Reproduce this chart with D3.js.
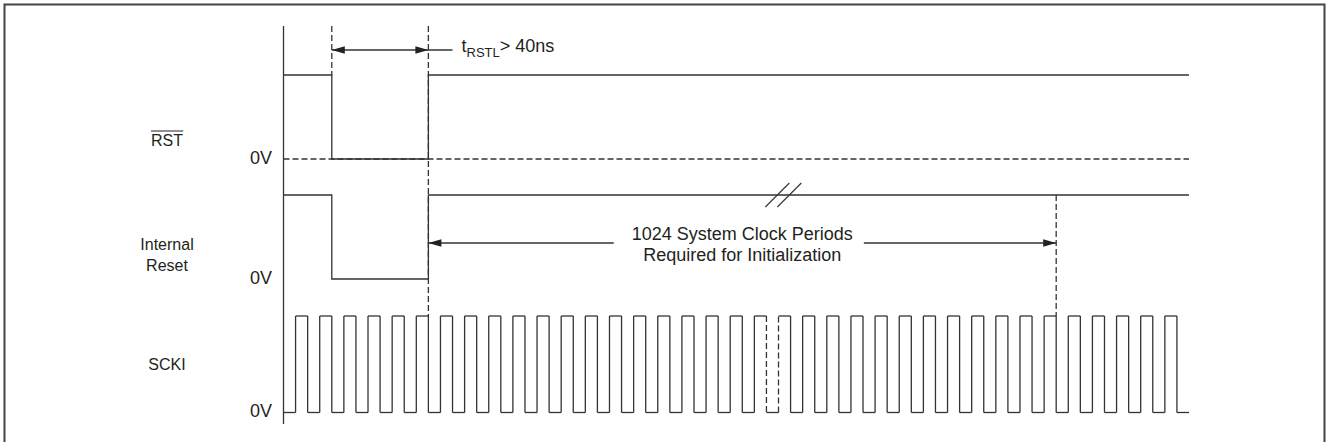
<!DOCTYPE html>
<html>
<head>
<meta charset="utf-8">
<script src="https://cdn.jsdelivr.net/npm/d3@7"></script>
<style>
  body { margin: 0; background: #fff; }
  svg { display: block; }
  text { font-family: "Liberation Sans", Arial, Helvetica, sans-serif; fill: #231f20; }
</style>
</head>
<body>
<svg id="chart" width="1326" height="442"></svg>
<script>
// Time is counted in SCKI periods, t = 0 at the left reference line
var signalNames = ["RST", "Internal Reset", "SCKI"];

// RST and internal reset: level (1 = high, 0 = 0V) starting at each time
var rstTimes = [0, 2, 6];
var rstLevels = [1, 0, 1];
var intResetTimes = [0, 2, 6];
var intResetLevels = [1, 0, 1];

// SCKI rising edges; each pulse stays high for half a period
var sckiRises = [0.5, 1.5, 2.5, 3.5, 4.5, 5.5, 6.5, 7.5, 8.5, 9.5,
                 10.5, 11.5, 12.5, 13.5, 14.5, 15.5, 16.5, 17.5, 18.5, 19.5,
                 20.5, 21.5, 22.5, 23.5, 24.5, 25.5, 26.5, 27.5, 28.5, 29.5,
                 30.5, 31.5, 32.5, 33.5, 34.5, 35.5, 36.5];
var sckiHighWidth = 0.5;
// edges drawn dashed where the clock train is broken
var sckiBreakEdges = [20, 20.5];

var endTime = 37.5;

// timing annotations
var tRstl = [2, 6];
var tRstlText = ["t", "RSTL", "> 40ns"];
var initPeriod = [6, 32];
var initText = ["1024 System Clock Periods", "Required for Initialization"];
var initTextCenter = 19;
var breakMarkTime = 20.7;
var zeroText = "0V";

(function(){
    var svg = d3.select("#chart");
    var LINE = "#333";
    var SW = 1.3;
    var DASH = "6,3";

    // outer frame
    svg.append("rect")
        .attr("x", 4.5).attr("y", 4.5)
        .attr("width", 1320).attr("height", 440)
        .attr("fill", "none").attr("stroke", "#444").attr("stroke-width", 2);

    var x = d3.scaleLinear().domain([0, endTime]).range([283.5, 1189]);

    // each row: [0V y, high y]
    var rows = {
        "RST": d3.scaleLinear().domain([0, 1]).range([159, 75]),
        "Internal Reset": d3.scaleLinear().domain([0, 1]).range([279, 195]),
        "SCKI": d3.scaleLinear().domain([0, 1]).range([412.5, 316])
    };

    var g = svg.append("g")
        .attr("fill", "none")
        .attr("stroke", LINE)
        .attr("stroke-width", SW);

    function seg(x1, y1, x2, y2, dashed) {
        var l = g.append("line")
            .attr("x1", x1).attr("y1", y1)
            .attr("x2", x2).attr("y2", y2);
        if (dashed) l.attr("stroke-dasharray", DASH);
        return l;
    }

    // reference line
    seg(x(0), 26, x(0), 424);

    // RST 0V dashed reference
    seg(x(0), rows["RST"](0), x(endTime), rows["RST"](0), true);

    // step waveforms
    function stepPath(times, levels, y) {
        var pts = times.map(function(t, i) { return [t, levels[i]]; });
        pts.push([endTime, levels[levels.length - 1]]);
        var line = d3.line()
            .x(function(d) { return x(d[0]); })
            .y(function(d) { return y(d[1]); })
            .curve(d3.curveStepAfter);
        g.append("path").attr("d", line(pts));
    }
    stepPath(rstTimes, rstLevels, rows["RST"]);
    stepPath(intResetTimes, intResetLevels, rows["Internal Reset"]);

    // SCKI pulse train, edge by edge
    var ys = rows["SCKI"];
    var prev = 0;
    sckiRises.forEach(function(r) {
        var f = r + sckiHighWidth;
        seg(x(prev), ys(0), x(r), ys(0));
        seg(x(r), ys(0), x(r), ys(1), sckiBreakEdges.indexOf(r) >= 0);
        seg(x(r), ys(1), x(f), ys(1));
        seg(x(f), ys(1), x(f), ys(0), sckiBreakEdges.indexOf(f) >= 0);
        prev = f;
    });
    seg(x(prev), ys(0), x(endTime), ys(0));

    // dashed timing markers
    seg(x(tRstl[0]), 26, x(tRstl[0]), rows["RST"](1), true);
    seg(x(tRstl[1]), 26, x(tRstl[1]), ys(1), true);
    seg(x(initPeriod[1]), rows["Internal Reset"](1), x(initPeriod[1]), ys(1), true);

    function arrowHead(tx, ty, dir) {
        var L = 13, H = 3.8;
        svg.append("path")
            .attr("d", "M" + tx + "," + ty +
                       "L" + (tx - dir * L) + "," + (ty - H) +
                       "L" + (tx - dir * L) + "," + (ty + H) + "Z")
            .attr("fill", "#222");
    }

    // tRSTL arrow
    var ya = 50;
    seg(x(tRstl[0]), ya, x(tRstl[1] + 1), ya);
    arrowHead(x(tRstl[0]), ya, -1);
    arrowHead(x(tRstl[1]), ya, 1);
    var tt = svg.append("text")
        .attr("x", x(tRstl[1] + 1) + 9)
        .attr("y", 52)
        .attr("font-size", 18);
    tt.append("tspan").text(tRstlText[0]);
    tt.append("tspan").attr("font-size", 13).attr("dy", 5).text(tRstlText[1]);
    tt.append("tspan").attr("dy", -5).text(tRstlText[2]);

    // initialization arrow
    var yi = 243;
    var it = svg.append("text")
        .attr("text-anchor", "middle")
        .attr("font-size", 18);
    it.append("tspan").attr("x", x(initTextCenter)).attr("y", 240).text(initText[0]);
    it.append("tspan").attr("x", x(initTextCenter)).attr("y", 261).text(initText[1]);
    var bb = it.node().getBBox();
    seg(x(initPeriod[0]), yi, bb.x - 18, yi);
    seg(bb.x + bb.width + 11, yi, x(initPeriod[1]), yi);
    arrowHead(x(initPeriod[0]), yi, -1);
    arrowHead(x(initPeriod[1]), yi, 1);

    // break mark on internal reset high level
    var bx = x(breakMarkTime), by = rows["Internal Reset"](1);
    [-6, 6].forEach(function(o) {
        svg.append("line")
            .attr("x1", bx + o - 12).attr("y1", by + 12)
            .attr("x2", bx + o + 12).attr("y2", by - 12)
            .attr("stroke", LINE).attr("stroke-width", 1.1);
    });

    // 0V labels
    signalNames.forEach(function(name) {
        svg.append("text")
            .attr("x", 272)
            .attr("y", rows[name](0) + 4.5)
            .attr("text-anchor", "end")
            .attr("font-size", 18)
            .text(zeroText);
    });

    // signal names
    var lx = 167;
    var rst = svg.append("text")
        .attr("x", lx).attr("y", 146)
        .attr("text-anchor", "middle")
        .attr("font-size", 16)
        .text(signalNames[0]);
    var rb = rst.node().getBBox();
    svg.append("line")
        .attr("x1", rb.x).attr("x2", rb.x + rb.width)
        .attr("y1", rb.y - 1).attr("y2", rb.y - 1)
        .attr("stroke", "#222").attr("stroke-width", 1.2);

    var words = signalNames[1].split(" ");
    svg.append("text").attr("x", lx).attr("y", 250)
        .attr("text-anchor", "middle").attr("font-size", 16).text(words[0]);
    svg.append("text").attr("x", lx).attr("y", 271)
        .attr("text-anchor", "middle").attr("font-size", 16).text(words[1]);

    svg.append("text").attr("x", lx).attr("y", 370)
        .attr("text-anchor", "middle").attr("font-size", 16).text(signalNames[2]);
})();
</script>
</body>
</html>
